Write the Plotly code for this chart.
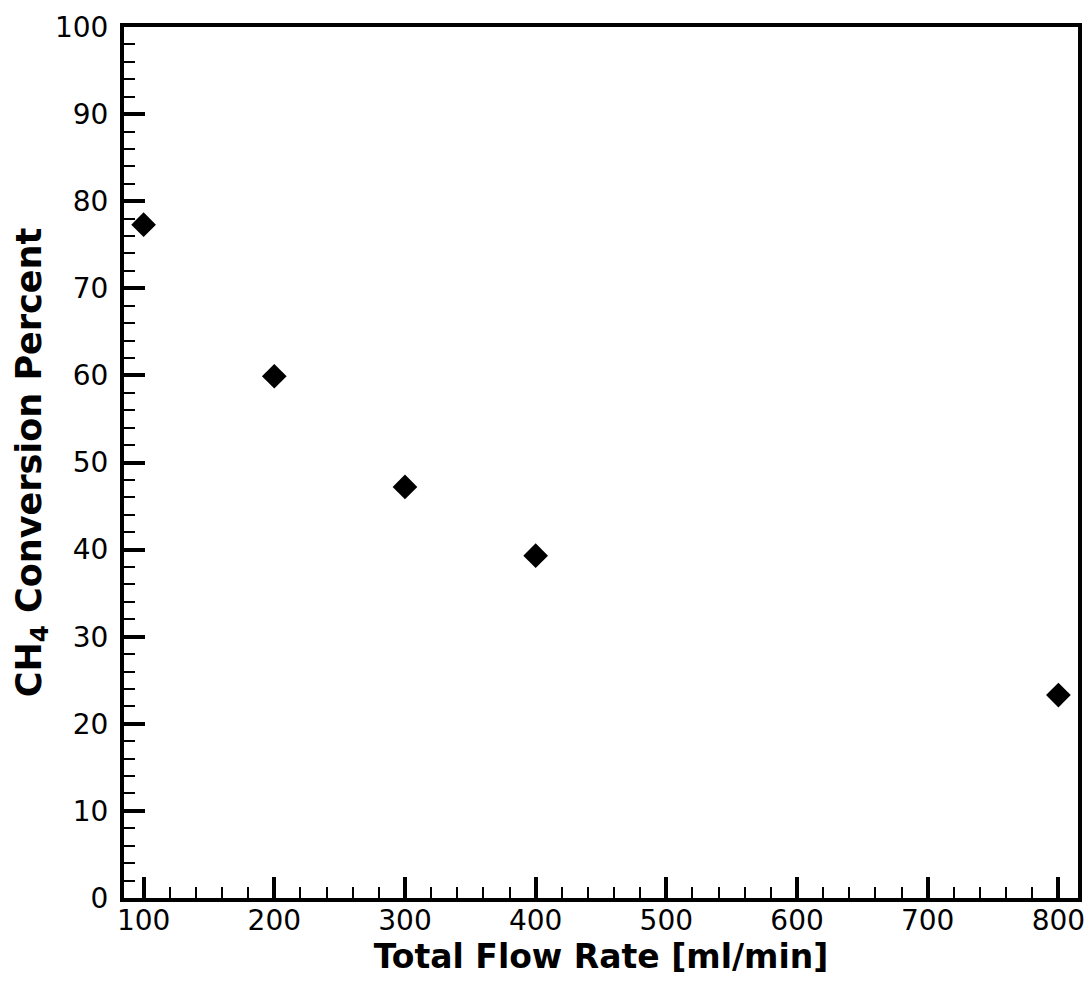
import plotly.graph_objects as go

flow_rate = [100, 200, 300, 400, 800]
ch4_conversion = [77.3, 59.9, 47.2, 39.3, 23.3]

x_ticks = [100, 200, 300, 400, 500, 600, 700, 800]
y_ticks = [0, 10, 20, 30, 40, 50, 60, 70, 80, 90, 100]

tick_font = dict(family="DejaVu Sans", size=28, color="black")
xtitle_font = dict(family="DejaVu Sans", size=33, color="black", weight="bold")
ytitle_font = dict(family="DejaVu Sans", size=35, color="black", weight="bold")

fig = go.Figure()
fig.add_trace(go.Scatter(
    x=flow_rate, y=ch4_conversion, mode="markers",
    marker=dict(symbol="diamond", size=19, color="black", line=dict(width=0)),
    showlegend=False, cliponaxis=False,
))

axis_common = dict(
    showgrid=False, zeroline=False,
    showline=True, linecolor="black", linewidth=4, mirror=True,
    ticks="inside", ticklen=21, tickwidth=4, tickcolor="black",
    tickfont=tick_font,
)

fig.update_xaxes(
    range=[85, 815], tickvals=x_ticks, ticktext=[str(v) for v in x_ticks],
    minor=dict(ticks="inside", dtick=20, tick0=0, ticklen=11, tickwidth=2, tickcolor="black"),
    title=dict(text="<b>Total Flow Rate [ml/min]</b>", font=xtitle_font, standoff=4),
    ticklabelstandoff=-6,
    **axis_common,
)
fig.update_yaxes(
    range=[0, 100], tickvals=y_ticks, ticktext=[str(v) for v in y_ticks],
    minor=dict(ticks="inside", dtick=2, tick0=0, ticklen=11, tickwidth=2, tickcolor="black"),
    title=dict(text="<b>CH<sub>4</sub> Conversion Percent</b>", font=ytitle_font, standoff=4),
    ticklabelstandoff=6,
    **axis_common,
)

fig.update_layout(
    width=1089, height=982,
    margin=dict(l=124, r=11, t=27, b=84, autoexpand=False),
    plot_bgcolor="white", paper_bgcolor="white",
)

fig.write_html("out.html")
